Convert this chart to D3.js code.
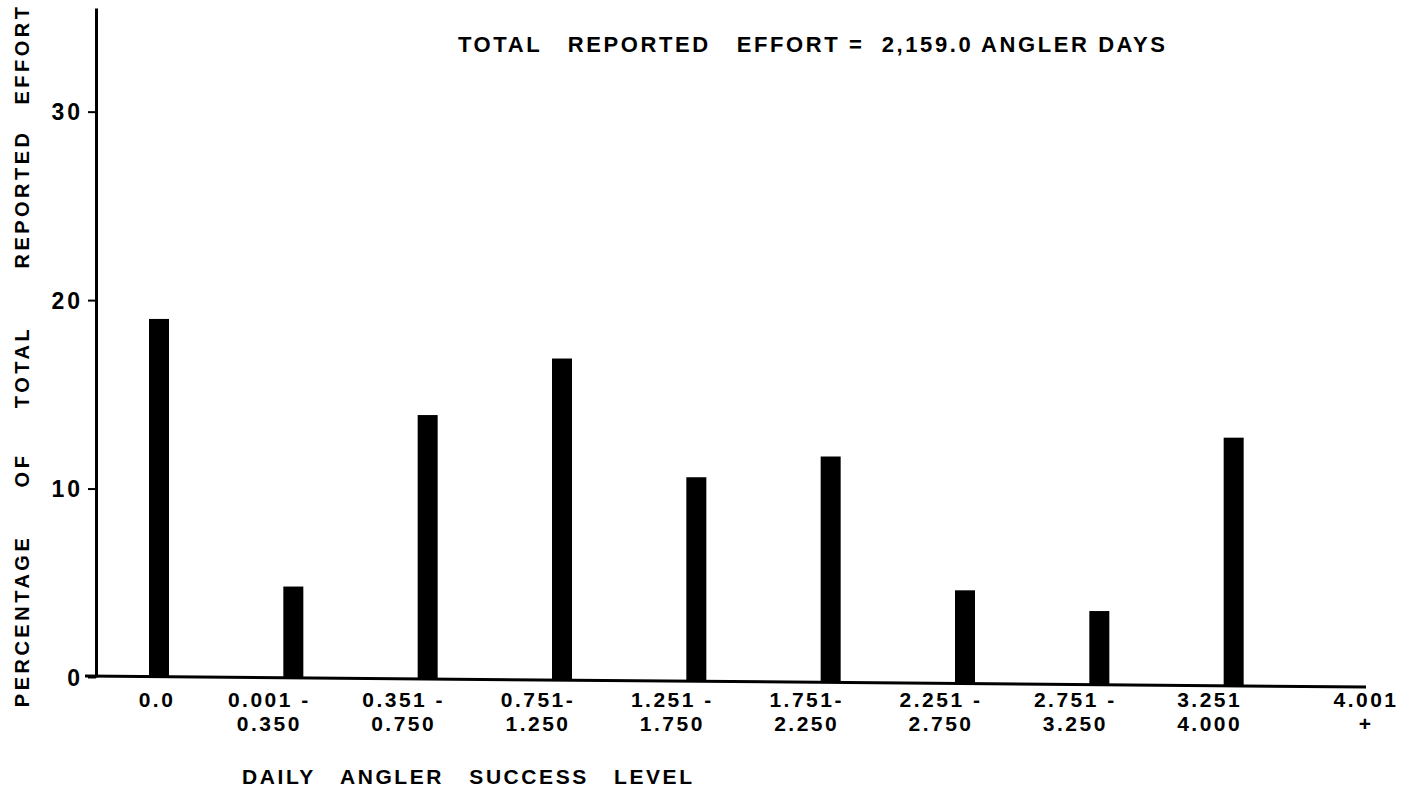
<!DOCTYPE html>
<html>
<head>
<meta charset="utf-8">
<script src="https://cdn.jsdelivr.net/npm/d3@7"></script>
<style>
  body { margin: 0; background: #fff; }
  text { font-family: "Liberation Sans", Arial, sans-serif; fill: #000; }
</style>
</head>
<body>
<div id="chart"></div>
<script>
// categories (daily angler success level), two-line tick labels
var categories = ["0.0", "0.001-0.350", "0.351-0.750", "0.751-1.250", "1.251-1.750",
                  "1.751-2.250", "2.251-2.750", "2.751-3.250", "3.251-4.000", "4.001+"];
var labelTop = ["0.0", "0.001 -", "0.351 -", "0.751-", "1.251 -", "1.751-", "2.251 -", "2.751 -", "3.251", "4.001"];
var labelBottom = ["", "0.350", "0.750", "1.250", "1.750", "2.250", "2.750", "3.250", "4.000", "+"];
// percentage of total reported effort
var percent = [19.0, 4.8, 13.9, 16.9, 10.6, 11.7, 4.6, 3.5, 12.7, 0];
var yTicks = [0, 10, 20, 30];
var yTitleWords = ["PERCENTAGE", "OF", "TOTAL", "REPORTED", "EFFORT"];

var W = 1401, H = 793;

var svg = d3.select("#chart")
  .append("svg")
    .attr("width", W)
    .attr("height", H);

// scales
var x = d3.scalePoint()
  .domain(categories)
  .range([159, 1368]);

var y = d3.scaleLinear()
  .domain([0, 35.5])
  .range([677, 8]);

// the baseline in the scan runs slightly downhill to the right
var base = function(px) { return y(0) - 1 + (px - 85) * 0.0086; };

// y axis
var yAxis = svg.append("g")
  .attr("transform", "translate(96,0)")
  .call(d3.axisLeft(y).tickValues(yTicks).tickSize(8).tickSizeOuter(0).tickPadding(5));
yAxis.select(".domain").attr("stroke-width", 3).attr("stroke", "#000");
yAxis.selectAll(".tick line").attr("stroke-width", 2).attr("stroke", "#000");
yAxis.selectAll(".tick text")
  .style("font-size", "23px")
  .style("font-weight", "bold")
  .style("letter-spacing", "3px")
  .attr("dy", "0.36em");

// x axis line
svg.append("line")
  .attr("x1", 85).attr("y1", base(85))
  .attr("x2", 1366).attr("y2", base(1366))
  .attr("stroke", "#000")
  .attr("stroke-width", 3);

// bars
svg.selectAll("rect.bar")
  .data(categories.map(function(c, i) { return {cat: c, v: percent[i]}; }).filter(function(d) { return d.v > 0; }))
  .enter()
  .append("rect")
    .attr("class", "bar")
    .attr("x", function(d) { return x(d.cat) - 10; })
    .attr("width", 20)
    .attr("y", function(d) { return y(d.v); })
    .attr("height", function(d) { return base(x(d.cat)) - y(d.v); })
    .attr("fill", "#000");

// x tick labels
var xl = svg.append("g").selectAll("g")
  .data(categories)
  .enter()
  .append("g")
    .attr("transform", function(d, i) {
      var shift = (labelBottom[i] && i < categories.length - 1) ? -24 : -2;
      return "translate(" + (x(d) + shift) + ",0)";
    });
xl.append("text")
  .attr("y", 707)
  .attr("text-anchor", "middle")
  .style("font-size", "21px")
  .style("font-weight", "bold")
  .style("letter-spacing", "2.5px")
  .text(function(d, i) { return labelTop[i]; });
xl.append("text")
  .attr("y", 731)
  .attr("text-anchor", "middle")
  .style("font-size", "21px")
  .style("font-weight", "bold")
  .style("letter-spacing", "2.5px")
  .text(function(d, i) { return labelBottom[i]; });

// x title
svg.append("text")
  .attr("x", 242)
  .attr("y", 784)
  .attr("xml:space", "preserve")
  .style("white-space", "pre")
  .style("font-size", "21px")
  .style("font-weight", "bold")
  .attr("textLength", 450)
  .attr("lengthAdjust", "spacing")
  .text("DAILY   ANGLER   SUCCESS   LEVEL");

// y title, words spaced along the axis
var yWordCenter = [621, 470, 367, 199, 54];
svg.selectAll("text.ytitle")
  .data(yTitleWords)
  .enter()
  .append("text")
    .attr("class", "ytitle")
    .attr("transform", function(d, i) { return "translate(29," + yWordCenter[i] + ")rotate(-90)"; })
    .attr("text-anchor", "middle")
    .style("font-size", "20px")
    .style("font-weight", "bold")
    .style("letter-spacing", "3.5px")
    .text(function(d) { return d; });

// title
svg.append("text")
  .attr("x", 458)
  .attr("y", 52)
  .attr("xml:space", "preserve")
  .style("white-space", "pre")
  .style("font-size", "22px")
  .style("font-weight", "bold")
  .attr("textLength", 707)
  .attr("lengthAdjust", "spacing")
  .text("TOTAL   REPORTED   EFFORT =  2,159.0 ANGLER DAYS");
</script>
</body>
</html>
